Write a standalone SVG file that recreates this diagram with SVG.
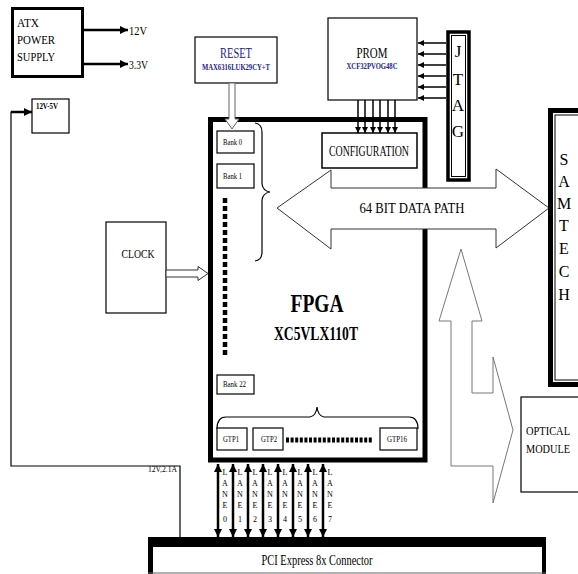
<svg xmlns="http://www.w3.org/2000/svg" width="578" height="574" viewBox="0 0 578 574">
<style>
text{font-family:"Liberation Serif","Times New Roman",serif;fill:#000}
.box{fill:#fff;stroke:#000;stroke-width:1.2}
.thin{fill:none;stroke:#000;stroke-width:1.2}
.small{font-size:8px}
.blue{fill:#1c1c8c;font-weight:bold}
.ln{stroke:#000;fill:none}
.hollow{fill:#fff;stroke:#666;stroke-width:1}
</style>
<defs>
<marker id="ah" viewBox="0 0 10 10" refX="10" refY="5" markerWidth="6" markerHeight="6" markerUnits="userSpaceOnUse" orient="auto"><path d="M0,0 L10,5 L0,10 z" fill="#000"/></marker>
<marker id="ahb" viewBox="0 0 10 10" refX="10" refY="5" markerWidth="8" markerHeight="8" markerUnits="userSpaceOnUse" orient="auto"><path d="M0,0 L10,5 L0,10 z" fill="#000"/></marker>
<marker id="lh" viewBox="0 0 10 10" refX="10" refY="5" markerWidth="9" markerHeight="8" markerUnits="userSpaceOnUse" orient="auto-start-reverse"><path d="M0,0 L10,5 L0,10 z" fill="#000"/></marker>
</defs>

<g id="atx">
<rect x="12.5" y="8.5" width="70" height="68" fill="#fff" stroke="#000" stroke-width="3"/>
<text x="17" y="27" font-size="13" textLength="22" lengthAdjust="spacingAndGlyphs">ATX</text>
<text x="17" y="44" font-size="13" textLength="38" lengthAdjust="spacingAndGlyphs">POWER</text>
<text x="17" y="61" font-size="13" textLength="38" lengthAdjust="spacingAndGlyphs">SUPPLY</text>
<text x="129" y="35" font-size="12" textLength="18" lengthAdjust="spacingAndGlyphs">12V</text>
<text x="129" y="69" font-size="12" textLength="19" lengthAdjust="spacingAndGlyphs">3.3V</text>
</g>

<g id="reg12v5v">
<rect class="box" x="32" y="99" width="37" height="34"/>
<text x="36" y="109" font-size="8" font-weight="bold" textLength="22" lengthAdjust="spacingAndGlyphs">12V-5V</text>
</g>

<g id="reset">
<rect class="box" x="195" y="37" width="82" height="46"/>
<text x="236" y="58" font-size="15" text-anchor="middle" class="blue" style="font-weight:normal" textLength="32" lengthAdjust="spacingAndGlyphs">RESET</text>
<text x="236" y="70" font-size="8" text-anchor="middle" class="blue" textLength="68" lengthAdjust="spacingAndGlyphs">MAX6316LUK29CY+T</text>
</g>

<g id="prom">
<rect class="box" x="328" y="18" width="89" height="82"/>
<text x="372" y="58" font-size="15" text-anchor="middle" textLength="31" lengthAdjust="spacingAndGlyphs">PROM</text>
<text x="372" y="69" font-size="8" text-anchor="middle" class="blue" textLength="51" lengthAdjust="spacingAndGlyphs">XCF32PVOG48C</text>
</g>

<g id="jtag">
<rect x="448" y="32" width="21" height="148" fill="#fff" stroke="#000" stroke-width="3.5"/>
<rect x="451.5" y="35.5" width="14" height="141" fill="none" stroke="#000" stroke-width="1"/>
<text x="458" y="57" font-size="17" text-anchor="middle">J</text>
<text x="458" y="85" font-size="17" text-anchor="middle">T</text>
<text x="458" y="111" font-size="17" text-anchor="middle">A</text>
<text x="458" y="137" font-size="17" text-anchor="middle">G</text>
</g>

<g id="fpga">
<rect x="210.5" y="119.5" width="214.5" height="340.5" fill="#fff" stroke="#000" stroke-width="5"/>
<text x="317" y="312" font-size="26" font-weight="bold" text-anchor="middle" textLength="53" lengthAdjust="spacingAndGlyphs">FPGA</text>
<text x="316" y="340" font-size="18" font-weight="bold" text-anchor="middle" textLength="84" lengthAdjust="spacingAndGlyphs">XC5VLX110T</text>
<rect class="box" x="217" y="131" width="37" height="22"/>
<text x="223" y="145" class="small" textLength="19" lengthAdjust="spacingAndGlyphs">Bank 0</text>
<rect class="box" x="217" y="164" width="37" height="24"/>
<text x="223" y="179" class="small" textLength="19" lengthAdjust="spacingAndGlyphs">Bank 1</text>
<line x1="225" y1="198" x2="225" y2="358" stroke="#000" stroke-width="4.5" stroke-dasharray="5 3"/>
<rect class="box" x="217" y="375" width="37" height="19"/>
<text x="223" y="387" class="small" textLength="23" lengthAdjust="spacingAndGlyphs">Bank 22</text>
<path class="thin" d="M255,123 Q262,124 262,132 L262,184 Q263,191 270,192 Q263,193 262,200 L262,252 Q262,260 255,261" stroke-width="1"/>
<path class="thin" d="M217,429 Q217,417 226,417 L310,417 Q316,416 317,407 Q318,416 324,417 L409,417 Q418,417 418,429" stroke-width="1"/>
<rect class="box" x="217" y="428" width="30" height="22"/>
<text x="223" y="442" class="small" textLength="16" lengthAdjust="spacingAndGlyphs">GTP1</text>
<rect class="box" x="253" y="428" width="30" height="22"/>
<text x="261" y="442" class="small" textLength="16" lengthAdjust="spacingAndGlyphs">GTP2</text>
<line x1="286" y1="440" x2="373" y2="440" stroke="#000" stroke-width="5" stroke-dasharray="3 1.6"/>
<rect class="box" x="380" y="428" width="37" height="22"/>
<text x="387" y="442" class="small" textLength="20" lengthAdjust="spacingAndGlyphs">GTP16</text>
</g>

<g id="configuration">
<rect x="322" y="133" width="95" height="35" fill="#fff" stroke="#000" stroke-width="1.5"/>
<text x="369" y="156" font-size="14" text-anchor="middle" textLength="80" lengthAdjust="spacingAndGlyphs">CONFIGURATION</text>
</g>

<g id="datapath">
<polygon points="277,208 331,170 331,188 496,188 496,169 549,208 496,248 496,229 331,229 331,249" fill="#fff" stroke="#333" stroke-width="1"/>
<text x="412" y="213" font-size="14" text-anchor="middle" textLength="105" lengthAdjust="spacingAndGlyphs">64 BIT DATA PATH</text>
</g>

<g id="clock">
<rect class="box" x="106" y="222" width="60" height="91"/>
<text x="138" y="258" font-size="13" text-anchor="middle" textLength="33" lengthAdjust="spacingAndGlyphs">CLOCK</text>
</g>

<g id="samtech">
<rect x="550.5" y="110.5" width="40" height="274" fill="#fff" stroke="#000" stroke-width="5"/>
<rect x="555" y="115" width="30" height="265" fill="none" stroke="#000" stroke-width="1"/>
<text x="564" y="165" font-size="16" text-anchor="middle">S</text>
<text x="564" y="187" font-size="16" text-anchor="middle">A</text>
<text x="564" y="209" font-size="16" text-anchor="middle">M</text>
<text x="564" y="231" font-size="16" text-anchor="middle">T</text>
<text x="564" y="254" font-size="16" text-anchor="middle">E</text>
<text x="564" y="277" font-size="16" text-anchor="middle">C</text>
<text x="564" y="300" font-size="16" text-anchor="middle">H</text>
</g>

<g id="optical">
<rect class="box" x="521" y="397" width="60" height="95" stroke-width="1"/>
<text x="526" y="435" font-size="12" textLength="44" lengthAdjust="spacingAndGlyphs">OPTICAL</text>
<text x="526" y="453" font-size="12" textLength="44" lengthAdjust="spacingAndGlyphs">MODULE</text>
</g>

<g id="pci">
<rect x="148" y="537" width="398" height="37" fill="#fff"/>
<rect x="148" y="537" width="398" height="10" fill="#000"/>
<rect x="148" y="537" width="5" height="37" fill="#000"/>
<rect x="542" y="537" width="4" height="37" fill="#000"/>
<line x1="148" y1="573" x2="546" y2="573" stroke="#666" stroke-width="1"/>
<text x="317" y="565" font-size="14" text-anchor="middle" textLength="111" lengthAdjust="spacingAndGlyphs">PCI Express 8x Connector</text>
</g>

<g id="connectors">
<line class="ln" x1="83" y1="30" x2="128" y2="30" stroke-width="2.5" marker-end="url(#ahb)"/>
<line class="ln" x1="83" y1="64" x2="128" y2="64" stroke-width="2.5" marker-end="url(#ahb)"/>
<polyline class="ln" points="180,538 180,466 11,466 11,112 24,112" stroke-width="1.2"/>
<line class="ln" x1="11" y1="112" x2="32" y2="112" stroke-width="2.5" marker-end="url(#ahb)"/>
<polygon class="hollow" points="229,83 235,83 235,119 239,119 232,129 225,119 229,119"/>
<polygon points="166,270 198,270 198,266.5 208,273.5 198,280.5 198,277 166,277" fill="#fff" stroke="#333" stroke-width="1"/>
<g stroke-width="1.5">
<line class="ln" x1="446" y1="43" x2="418" y2="43" marker-end="url(#ah)"/>
<line class="ln" x1="446" y1="54" x2="418" y2="54" marker-end="url(#ah)"/>
<line class="ln" x1="446" y1="65" x2="418" y2="65" marker-end="url(#ah)"/>
<line class="ln" x1="446" y1="76" x2="418" y2="76" marker-end="url(#ah)"/>
<line class="ln" x1="446" y1="87" x2="418" y2="87" marker-end="url(#ah)"/>
<line class="ln" x1="446" y1="98" x2="418" y2="98" marker-end="url(#ah)"/>
<line class="ln" x1="358" y1="100" x2="358" y2="133" marker-end="url(#ah)"/>
<line class="ln" x1="365" y1="100" x2="365" y2="133" marker-end="url(#ah)"/>
<line class="ln" x1="373" y1="100" x2="373" y2="133" marker-end="url(#ah)"/>
<line class="ln" x1="380" y1="100" x2="380" y2="133" marker-end="url(#ah)"/>
<line class="ln" x1="388" y1="100" x2="388" y2="133" marker-end="url(#ah)"/>
<line class="ln" x1="395" y1="100" x2="395" y2="133" marker-end="url(#ah)"/>
</g>
<g stroke-width="2.5">
<line class="ln" x1="218" y1="464" x2="218" y2="537" marker-start="url(#lh)" marker-end="url(#lh)"/>
<line class="ln" x1="233" y1="464" x2="233" y2="537" marker-start="url(#lh)" marker-end="url(#lh)"/>
<line class="ln" x1="248" y1="464" x2="248" y2="537" marker-start="url(#lh)" marker-end="url(#lh)"/>
<line class="ln" x1="263" y1="464" x2="263" y2="537" marker-start="url(#lh)" marker-end="url(#lh)"/>
<line class="ln" x1="278" y1="464" x2="278" y2="537" marker-start="url(#lh)" marker-end="url(#lh)"/>
<line class="ln" x1="293" y1="464" x2="293" y2="537" marker-start="url(#lh)" marker-end="url(#lh)"/>
<line class="ln" x1="308" y1="464" x2="308" y2="537" marker-start="url(#lh)" marker-end="url(#lh)"/>
<line class="ln" x1="323" y1="464" x2="323" y2="537" marker-start="url(#lh)" marker-end="url(#lh)"/>
</g>
<polygon points="461,249 482,321 472,321 472,393 493,393 493,357 513,430 493,503 493,466 451,466 451,321 439,321" fill="none" stroke="#777" stroke-width="1"/>
</g>

<g id="lanes" font-size="8">
<g text-anchor="middle">
<text x="225" y="475">L</text><text x="225" y="486">A</text><text x="225" y="497">N</text><text x="225" y="508">E</text><text x="225" y="522">0</text>
<text x="240" y="475">L</text><text x="240" y="486">A</text><text x="240" y="497">N</text><text x="240" y="508">E</text><text x="240" y="522">1</text>
<text x="255" y="475">L</text><text x="255" y="486">A</text><text x="255" y="497">N</text><text x="255" y="508">E</text><text x="255" y="522">2</text>
<text x="270" y="475">L</text><text x="270" y="486">A</text><text x="270" y="497">N</text><text x="270" y="508">E</text><text x="270" y="522">3</text>
<text x="285" y="475">L</text><text x="285" y="486">A</text><text x="285" y="497">N</text><text x="285" y="508">E</text><text x="285" y="522">4</text>
<text x="300" y="475">L</text><text x="300" y="486">A</text><text x="300" y="497">N</text><text x="300" y="508">E</text><text x="300" y="522">5</text>
<text x="315" y="475">L</text><text x="315" y="486">A</text><text x="315" y="497">N</text><text x="315" y="508">E</text><text x="315" y="522">6</text>
<text x="330" y="475">L</text><text x="330" y="486">A</text><text x="330" y="497">N</text><text x="330" y="508">E</text><text x="330" y="522">7</text>
</g>
<text x="148" y="472" textLength="29" lengthAdjust="spacingAndGlyphs">12V,2.1A</text>
</g>
</svg>
